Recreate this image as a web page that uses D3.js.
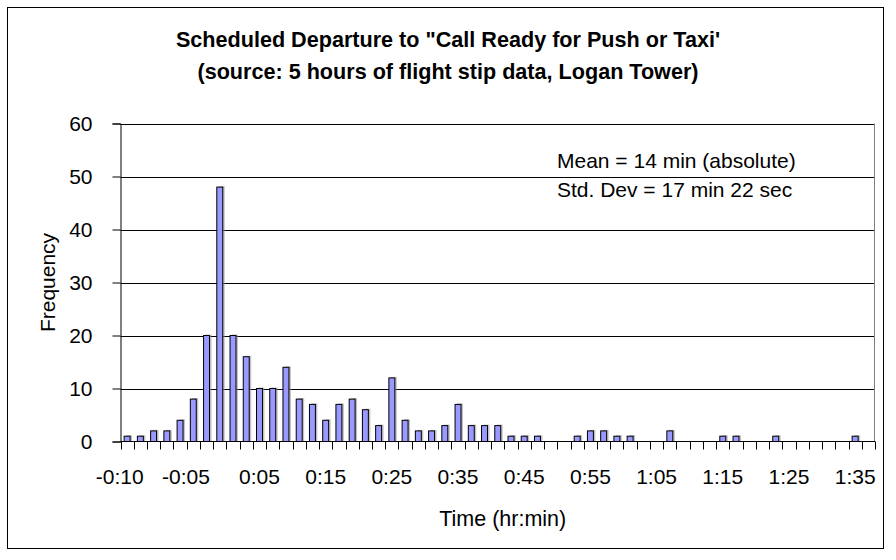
<!DOCTYPE html>
<html>
<head>
<meta charset="utf-8">
<script src="https://cdn.jsdelivr.net/npm/d3@7"></script>
<style>
  html, body { margin: 0; padding: 0; background: #fff; }
  svg { display: block; font-family: "Liberation Sans", Arial, sans-serif; }
</style>
</head>
<body>
<svg id="chart" width="896" height="560"></svg>
<script>
// Histogram bins (2-minute classes), counts per bin
const binIndex = d3.range(57);
const frequency = [
  1, 1, 2, 2, 4, 8, 20, 48, 20, 16,
  10, 10, 14, 8, 7, 4, 7, 8, 6, 3,
  12, 4, 2, 2, 3, 7, 3, 3, 3, 1,
  1, 1, 0, 0, 1, 2, 2, 1, 1, 0,
  0, 2, 0, 0, 0, 1, 1, 0, 0, 1,
  0, 0, 0, 0, 0, 1, 0
];
// Every fifth bin carries a time label
const labelBins = [0, 5, 10, 15, 20, 25, 30, 35, 40, 45, 50, 55];
const labelText = ["-0:10", "-0:05", "0:05", "0:15", "0:25", "0:35", "0:45", "0:55", "1:05", "1:15", "1:25", "1:35"];
const yTicks = [0, 10, 20, 30, 40, 50, 60];
const titleLines = ["Scheduled Departure to \"Call Ready for Push or Taxi'", "(source: 5 hours of flight stip data, Logan Tower)"];
const statsLines = ["Mean = 14 min (absolute)", "Std. Dev = 17 min 22 sec"];

const svg = d3.select("#chart");
const plot = { left: 120.5, right: 875, top: 123.5, bottom: 441.5 };

// chart frame
svg.append("rect")
  .attr("x", 7.5).attr("y", 7.5)
  .attr("width", 876).attr("height", 541)
  .attr("fill", "#fff").attr("stroke", "#000").attr("stroke-width", 1);

const x = d3.scaleBand().domain(binIndex).range([plot.left, plot.right]).paddingInner(0.55).paddingOuter(0.275);
const xEdge = d3.scaleLinear().domain([0, binIndex.length]).range([plot.left, plot.right]);
const y = d3.scaleLinear().domain([0, 60]).range([plot.bottom, plot.top]);

// gridlines
svg.append("g").selectAll("line").data(yTicks.filter(t => t > 0)).join("line")
  .attr("x1", plot.left).attr("x2", plot.right)
  .attr("y1", d => Math.round(y(d)) + 0.5).attr("y2", d => Math.round(y(d)) + 0.5)
  .attr("stroke", "#000").attr("stroke-width", 1);

// plot area right edge
svg.append("line")
  .attr("x1", plot.right - 0.5).attr("x2", plot.right - 0.5)
  .attr("y1", plot.top).attr("y2", plot.bottom)
  .attr("stroke", "#808080");

// bars with a soft drop shadow
const filled = binIndex.filter(i => frequency[i] > 0);
const bars = svg.append("g");
bars.selectAll("rect.shadow").data(filled).join("rect")
  .attr("class", "shadow")
  .attr("x", i => x(i) + 2).attr("y", i => y(frequency[i]) - 1)
  .attr("width", x.bandwidth()).attr("height", i => plot.bottom - y(frequency[i]) + 1)
  .attr("fill", "#9a9a9a").attr("opacity", 0.6);
bars.selectAll("rect.bar").data(filled).join("rect")
  .attr("class", "bar")
  .attr("x", i => x(i)).attr("y", i => y(frequency[i]))
  .attr("width", x.bandwidth()).attr("height", i => plot.bottom - y(frequency[i]))
  .attr("fill", "#9999ff").attr("stroke", "#000").attr("stroke-width", 1);

// y axis
const yAxis = d3.axisLeft(y).tickValues(yTicks).tickSize(8).tickPadding(20);
const gy = svg.append("g").attr("transform", `translate(${plot.left},0)`).call(yAxis);
gy.select(".domain").attr("stroke", "#000");
gy.selectAll(".tick line").attr("stroke", "#000");
gy.selectAll(".tick text").attr("font-size", 21).attr("fill", "#000")
  .attr("font-family", "Liberation Sans, Arial, sans-serif");

// x axis: baseline, bin edge ticks, labels
const gx = svg.append("g");
gx.append("line").attr("x1", plot.left).attr("x2", plot.right)
  .attr("y1", plot.bottom).attr("y2", plot.bottom).attr("stroke", "#000");
gx.selectAll("line.tick").data(d3.range(binIndex.length + 1)).join("line")
  .attr("class", "tick")
  .attr("x1", d => Math.round(xEdge(d)) + 0.5).attr("x2", d => Math.round(xEdge(d)) + 0.5)
  .attr("y1", plot.bottom).attr("y2", plot.bottom + 8)
  .attr("stroke", "#000");
gx.selectAll("text").data(labelBins).join("text")
  .attr("x", d => x(d) + x.bandwidth() / 2)
  .attr("dx", (d, i) => labelText[i].startsWith("-") ? "-0.35em" : 0)
  .attr("y", 484)
  .attr("text-anchor", "middle").attr("font-size", 21).attr("fill", "#000")
  .text((d, i) => labelText[i]);

// axis titles
svg.append("text").attr("x", (plot.left + plot.right) / 2 + 5).attr("y", 526)
  .attr("text-anchor", "middle").attr("font-size", 21.5).text("Time (hr:min)");
svg.append("text").attr("transform", `translate(55,${(plot.top + plot.bottom) / 2}) rotate(-90)`)
  .attr("text-anchor", "middle").attr("font-size", 21).text("Frequency");

// chart title
svg.append("g").selectAll("text").data(titleLines).join("text")
  .attr("x", 448).attr("y", (d, i) => 47 + i * 32)
  .attr("text-anchor", "middle").attr("font-size", 21.6).attr("font-weight", "bold")
  .text(d => d);

// summary statistics
svg.append("g").selectAll("text").data(statsLines).join("text")
  .attr("x", 557).attr("y", (d, i) => 168 + i * 28.5)
  .attr("font-size", 21).text(d => d);
</script>
</body>
</html>
